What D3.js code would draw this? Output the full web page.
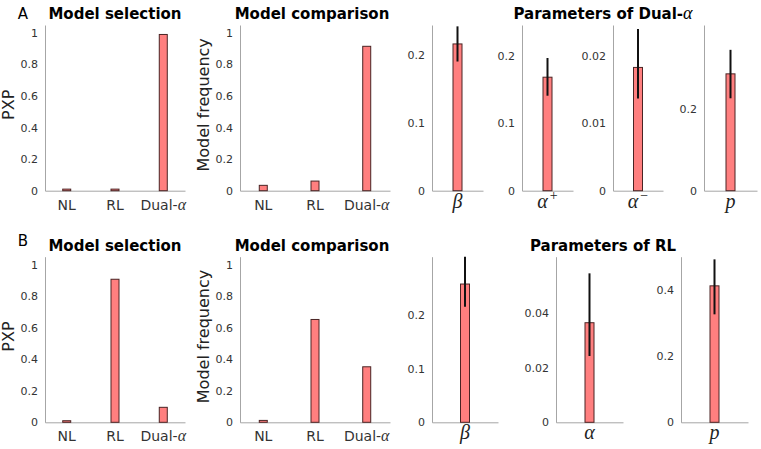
<!DOCTYPE html>
<html>
<head>
<meta charset="utf-8">
<script src="https://cdn.jsdelivr.net/npm/d3@7"></script>
<style>
  body { margin: 0; background: #fff; }
  svg { display: block; font-family: "DejaVu Sans", sans-serif; }
</style>
</head>
<body>
<div id="fig"></div>
<script>
// donnees
const models = ["NL", "RL", "Dual"];
const pxpA = [0.01, 0.01, 0.99];
const freqA = [0.034, 0.061, 0.915];
const pxpB = [0.01, 0.907, 0.095];
const freqB = [0.012, 0.652, 0.352];
const modelTicks = [0, 0.2, 0.4, 0.6, 0.8, 1];

// parametres Dual-alpha (rangee A)
const parNamesA = ["β", "α+", "α−", "p"];
const parMeanA = [0.217, 0.1685, 0.0183, 0.287];
const parLowA = [0.191, 0.141, 0.0137, 0.227];
const parHighA = [0.243, 0.197, 0.0240, 0.346];
const parYMaxA = [0.245, 0.246, 0.0246, 0.407];
const parTicksA = [[0, 0.1, 0.2], [0, 0.1, 0.2], [0, 0.01, 0.02], [0, 0.2]];

// parametres RL (rangee B)
const parNamesB = ["β", "α", "p"];
const parMeanB = [0.258, 0.0365, 0.412];
const parLowB = [0.2157, 0.0243, 0.326];
const parHighB = [0.309, 0.0546, 0.492];
const parYMaxB = [0.309, 0.0607, 0.5];
const parTicksB = [[0, 0.1, 0.2], [0, 0.02, 0.04], [0, 0.2, 0.4]];

const W = 761, H = 449;
const barFill = "#ff7f7f", barStroke = "#4a2424", axisCol = "#a6a6a6", txtCol = "#333";

const svg = d3.select("#fig").append("svg")
  .attr("width", W).attr("height", H);

// dessine l'axe y + l'axe x (sans graduations, comme matlab box off)
function axes(g, x, y, ticks) {
  const ya = g.append("g")
    .attr("transform", "translate(" + x.range()[0] + ",0)")
    .call(d3.axisLeft(y).tickValues(ticks).tickSize(0).tickPadding(7)
      .tickFormat(d => String(+d.toFixed(3))));
  const xa = g.append("g")
    .attr("transform", "translate(0," + y.range()[0] + ")")
    .call(d3.axisBottom(x).tickValues([]).tickSize(0).tickSizeOuter(0));
  [ya, xa].forEach(a => {
    a.select(".domain").attr("stroke", axisCol).attr("stroke-width", 1);
    a.selectAll("text").attr("fill", txtCol).style("font-size", "11px")
      .style("font-family", "DejaVu Sans, sans-serif");
  });
}

function modelPanel(x0, x1, yTop, yBot, vals, ylabel) {
  const g = svg.append("g");
  const x = d3.scaleLinear().domain([0.55, 3.45]).range([x0, x1]);
  const y = d3.scaleLinear().domain([0, 1.05]).range([yBot, yTop]);
  axes(g, x, y, modelTicks);

  g.selectAll("rect.bar")
    .data(vals)
    .enter()
    .append("rect")
      .attr("class", "bar")
      .attr("x", (d, i) => x(i + 1) - 4)
      .attr("width", 8)
      .attr("y", d => y(d))
      .attr("height", d => y(0) - y(d))
      .attr("fill", barFill)
      .attr("stroke", barStroke)
      .attr("stroke-width", 1);

  // labels x
  const lab = g.selectAll("text.xl")
    .data(models)
    .enter()
    .append("text")
      .attr("class", "xl")
      .attr("x", (d, i) => x(i + 1))
      .attr("y", yBot + 19)
      .attr("text-anchor", "middle")
      .attr("fill", txtCol)
      .style("font-size", "14px");
  lab.append("tspan").text(d => d === "Dual" ? "Dual-" : d);
  lab.filter(d => d === "Dual").append("tspan")
    .style("font-family", "Liberation Serif, serif")
    .style("font-style", "italic")
    .style("font-size", "16px")
    .text("α");

  g.append("text")
    .attr("transform", "translate(" + (x0 - 31) + "," + ((yTop + yBot) / 2 - 3) + ") rotate(-90)")
    .attr("text-anchor", "middle")
    .attr("fill", "#222")
    .style("font-size", "16px")
    .text(ylabel);
}

function paramPanel(x0, x1, yTop, yBot, name, mean, low, high, ymax, ticks) {
  const g = svg.append("g");
  const x = d3.scaleLinear().domain([0.5, 1.5]).range([x0, x1]);
  const y = d3.scaleLinear().domain([0, ymax]).range([yBot, yTop]);
  axes(g, x, y, ticks);

  g.append("rect")
    .attr("x", x(1) - 4.5)
    .attr("width", 9)
    .attr("y", y(mean))
    .attr("height", y(0) - y(mean))
    .attr("fill", barFill)
    .attr("stroke", barStroke)
    .attr("stroke-width", 1);

  g.append("line")
    .attr("x1", x(1)).attr("x2", x(1))
    .attr("y1", y(low)).attr("y2", y(Math.min(high, ymax)))
    .attr("stroke", "#111")
    .attr("stroke-width", 2);

  const t = g.append("text")
    .attr("x", x(1))
    .attr("y", yBot + 17)
    .attr("text-anchor", "middle")
    .attr("fill", "#222")
    .style("font-family", "Liberation Serif, serif")
    .style("font-style", "italic")
    .style("font-size", "20px");
  t.append("tspan").text(name[0]);
  if (name.length > 1) {
    t.append("tspan")
      .attr("dx", 2)
      .attr("dy", -8)
      .style("font-style", "normal")
      .style("font-size", "14px")
      .text(name[1]);
  }
}

function title(x, y, txt, greek) {
  const t = svg.append("text")
    .attr("x", x).attr("y", y)
    .attr("text-anchor", "middle")
    .attr("fill", "#000")
    .style("font-weight", "bold")
    .style("font-size", "15px")
    .text(txt);
  if (greek) {
    t.append("tspan")
      .style("font-family", "Liberation Serif, serif")
      .style("font-style", "italic")
      .style("font-weight", "normal")
      .style("font-size", "18px")
      .text(greek);
  }
}

// --- rangee A ---
modelPanel(45, 185, 25, 190.7, pxpA, "PXP");
modelPanel(240, 390, 25, 190.7, freqA, "Model frequency");
const boxesA = [[432, 483], [522, 573], [613, 663], [704, 757]];
parNamesA.forEach((n, i) => paramPanel(boxesA[i][0], boxesA[i][1], 25, 190.7,
  n, parMeanA[i], parLowA[i], parHighA[i], parYMaxA[i], parTicksA[i]));

// --- rangee B ---
modelPanel(45, 185, 256.7, 422.3, pxpB, "PXP");
modelPanel(240, 390, 256.7, 422.3, freqB, "Model frequency");
const boxesB = [[432, 498], [556, 623], [681, 748]];
parNamesB.forEach((n, i) => paramPanel(boxesB[i][0], boxesB[i][1], 256.7, 422.3,
  n, parMeanB[i], parLowB[i], parHighB[i], parYMaxB[i], parTicksB[i]));

// titres
title(115, 19, "Model selection");
title(312, 19, "Model comparison");
title(603, 19, "Parameters of Dual-", "α");
title(115, 251, "Model selection");
title(312, 251, "Model comparison");
title(603, 251, "Parameters of RL");

svg.append("text").attr("x", 23).attr("y", 19).attr("text-anchor", "middle")
  .style("font-size", "15px").text("A");
svg.append("text").attr("x", 23).attr("y", 246).attr("text-anchor", "middle")
  .style("font-size", "15px").text("B");
</script>
</body>
</html>
